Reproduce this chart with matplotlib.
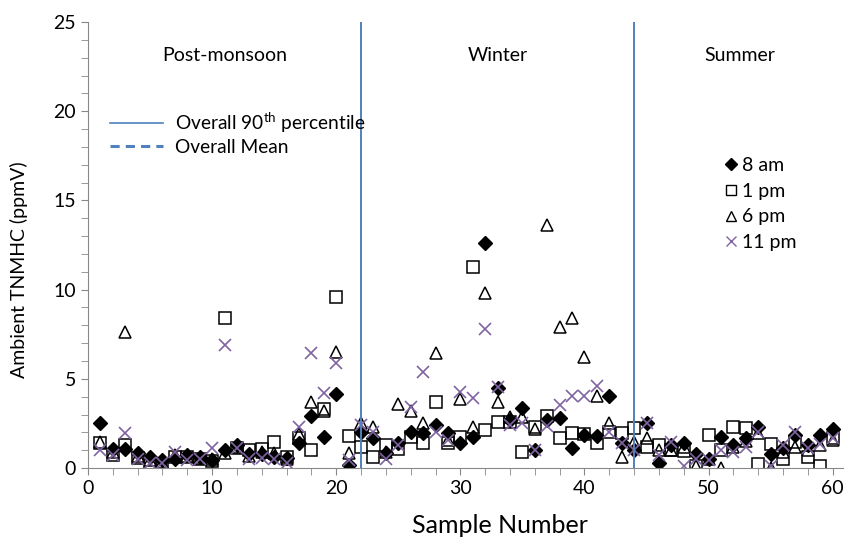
import matplotlib
matplotlib.use("Agg")
import matplotlib.pyplot as plt
from matplotlib.lines import Line2D
from matplotlib.ticker import MultipleLocator

plt.rcParams['font.family'] = ['Lato', 'DejaVu Sans']
plt.rcParams['mathtext.fontset'] = 'custom'
plt.rcParams['mathtext.rm'] = 'Lato'

samples = list(range(1, 61))

am8 = [2.5, 1.05, 1.06, 0.82, 0.63, 0.45, 0.5, 0.75, 0.6, 0.45,
       1.0, 1.32, 0.8, 0.8, 0.6, 0.55, 1.38, 2.93, 1.76, 4.15,
       0.17, 2.03, 1.66, 0.86, 1.38, 2.03, 1.98, 2.41, 1.94, 1.42,
       1.72, 12.6, 4.5, 2.7, 3.35, 1.0, 2.69, 2.78, 1.1, 1.85,
       1.79, 4.03, 1.38, 1.0, 2.5, 0.26, 1.29, 1.38, 0.8, 0.5,
       1.76, 1.32, 1.66, 2.32, 0.78, 1.15, 1.85, 1.29, 1.85, 2.2]

pm1 = [1.4, 0.73, 1.29, 0.55, 0.3, 0.17, 0.6, 0.6, 0.5, 0.4,
       8.43, 1.1, 1.0, 1.05, 1.44, 0.6, 1.66, 1.0, 3.29, 9.57,
       1.79, 1.2, 0.63, 1.29, 1.05, 1.76, 1.42, 3.72, 1.42, 1.76,
       11.25, 2.13, 2.6, 2.6, 0.92, 2.32, 2.93, 1.7, 1.98, 1.9,
       1.38, 2.03, 1.94, 2.22, 1.2, 1.32, 1.0, 0.96, 0.1, 1.85,
       1.0, 2.28, 2.22, 0.2, 1.35, 0.5, 1.45, 0.6, 0.1, 1.7]

pm6 = [1.45, 0.9, 7.6, 0.65, 0.45, 0.35, 0.75, 0.65, 0.55, 0.5,
       0.85, 1.2, 0.65, 0.9, 0.85, 0.5, 1.9, 3.72, 3.2, 6.52,
       0.86, 2.5, 2.32, 0.9, 3.59, 3.21, 2.5, 6.43, 1.6, 3.85,
       2.28, 9.79, 3.72, 2.87, 2.87, 2.2, 13.6, 7.92, 8.43, 6.24,
       4.03, 2.54, 0.63, 1.45, 1.66, 1.0, 1.0, 1.2, 0.1, 0.5,
       0.0, 1.2, 1.5, 1.98, 0.0, 0.9, 1.2, 1.0, 1.3, 1.6]

pm11 = [1.0, 0.75, 1.94, 0.5, 0.3, 0.3, 0.9, 0.45, 0.5, 1.15,
        6.9, 1.1, 0.5, 0.55, 0.5, 0.3, 2.32, 6.47, 4.18, 5.87,
        0.45, 2.4, 2.03, 0.5, 1.29, 3.44, 5.4, 2.03, 1.6, 4.28,
        3.94, 7.79, 4.56, 2.4, 2.5, 1.0, 2.35, 3.53, 4.05, 4.05,
        4.6, 2.03, 1.38, 1.0, 2.5, 0.75, 1.45, 0.1, 0.5, 0.45,
        1.0, 0.9, 1.2, 2.03, 0.1, 1.29, 2.03, 1.1, 1.33, 1.7]

season_breaks = [22, 44]
seasons = ['Post-monsoon', 'Winter', 'Summer']
season_x = [11, 33, 52.5]

line_blue = '#4f81bd'
purple = '#8064a2'

fig = plt.figure(figsize=(8.46, 5.38), dpi=100)
ax = fig.add_axes([0.104, 0.130, 0.892, 0.829])

ax.plot(samples, am8, linestyle='none', marker='D', ms=7, color='black')
ax.plot(samples, pm1, linestyle='none', marker='s', ms=9, mfc='none',
        mec='black', mew=1.1)
ax.plot(samples, pm6, linestyle='none', marker='^', ms=9, mfc='none',
        mec='black', mew=1.1)
ax.plot(samples, pm11, linestyle='none', marker='x', ms=8, color=purple,
        mew=1.2)

for xb in season_breaks:
    ax.axvline(xb, color=line_blue, lw=1.4)

for name, xs in zip(seasons, season_x):
    ax.text(xs, 23.1, name, ha='center', va='center', fontsize=14)

ax.set_xlim(0, 60.8)
ax.set_ylim(0, 25)
ax.xaxis.set_major_locator(MultipleLocator(10))
ax.xaxis.set_minor_locator(MultipleLocator(2))
ax.yaxis.set_major_locator(MultipleLocator(5))
ax.yaxis.set_minor_locator(MultipleLocator(1))
ax.tick_params(axis='both', which='both', color='#888888', labelsize=14)
ax.tick_params(which='major', length=5)
ax.tick_params(which='minor', length=5)
for side in ['top', 'right']:
    ax.spines[side].set_visible(False)
for side in ['left', 'bottom']:
    ax.spines[side].set_color('#888888')

ax.set_xlabel('Sample Number', fontsize=18)
ax.set_ylabel('Ambient TNMHC (ppmV)', fontsize=14)
ax.xaxis.set_label_coords(0.546, -0.103)
ax.yaxis.set_label_coords(-0.079, 0.444)

line_handles = [Line2D([], [], color=line_blue, lw=1.2),
                Line2D([], [], color=line_blue, lw=2.2, linestyle=(0, (3, 2)))]
leg1 = ax.legend(line_handles,
                 ['Overall 90$^{\\rm th}$ percentile', 'Overall Mean'],
                 loc='center left', bbox_to_anchor=(0.006, 0.752),
                 frameon=False, fontsize=13.8, handlelength=2.8,
                 labelspacing=0.2, handletextpad=0.6)
ax.add_artist(leg1)

marker_handles = [Line2D([], [], linestyle='none', marker='D', ms=6, color='black'),
                  Line2D([], [], linestyle='none', marker='s', ms=7, mfc='none', mec='black'),
                  Line2D([], [], linestyle='none', marker='^', ms=7, mfc='none', mec='black'),
                  Line2D([], [], linestyle='none', marker='x', ms=7, color=purple)]
ax.legend(marker_handles, ['8 am', '1 pm', '6 pm', '11 pm'],
          loc='center left', bbox_to_anchor=(0.818, 0.592), frameon=False,
          fontsize=14, handlelength=0.8, handletextpad=0.2, labelspacing=0.45)

fig.savefig('out.png', dpi=100)
